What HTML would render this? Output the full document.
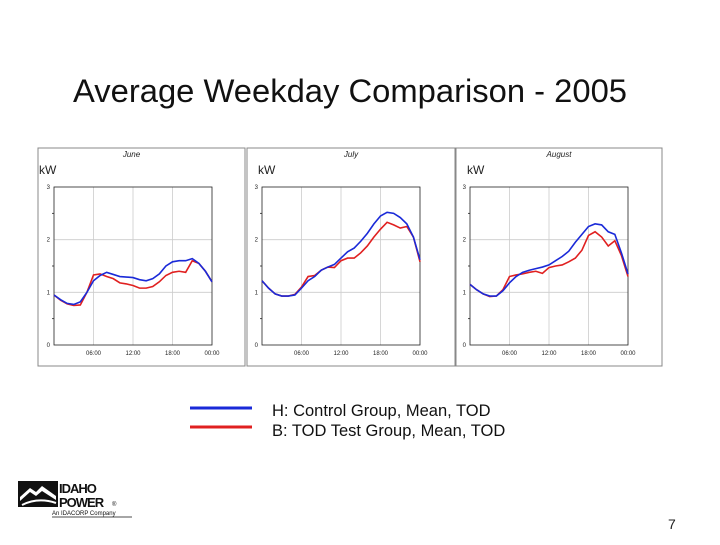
<!DOCTYPE html>
<html><head><meta charset="utf-8"><style>
body{margin:0;background:#fff;width:720px;height:540px;overflow:hidden;font-family:"Liberation Sans",sans-serif;}
</style></head><body>
<svg id="s" width="720" height="540" xmlns="http://www.w3.org/2000/svg" font-family="Liberation Sans, sans-serif">
<text x="73" y="102" font-size="32" fill="#111" textLength="554" lengthAdjust="spacingAndGlyphs">Average Weekday Comparison - 2005</text>
<g id="charts"></g>
<g>
<line x1="190" y1="408" x2="252" y2="408" stroke="#1a2ad8" stroke-width="3"/>
<line x1="190" y1="427" x2="252" y2="427" stroke="#e02020" stroke-width="3"/>
<text x="272" y="416" font-size="16.5" fill="#111">H: Control Group, Mean, TOD</text>
<text x="272" y="436" font-size="16.5" fill="#111">B: TOD Test Group, Mean, TOD</text>
</g>
<g>
<rect x="18" y="481" width="40" height="26" fill="#111"/>
<path d="M20 497 L30 488 L36 492 L42 486 L56 496 L56 500 L42 491 L36 496 L30 492 L20 501Z" fill="#fff"/>
<path d="M22 505 Q38 497 56 503" stroke="#fff" stroke-width="2" fill="none"/>
<text x="59" y="493" font-size="13" font-weight="bold" fill="#111" letter-spacing="-1">IDAHO</text>
<text x="59" y="507" font-size="13" font-weight="bold" fill="#111" letter-spacing="-1">POWER</text>
<text x="112" y="506" font-size="6" fill="#111">®</text>
<text x="52" y="515" font-size="6" fill="#111">An IDACORP Company</text>
<line x1="52" y1="517" x2="132" y2="517" stroke="#111" stroke-width="0.7"/>
</g>
<text x="668" y="529" font-size="14" fill="#222">7</text>
</svg>
<script>
const hours = [0,1,2,3,4,5,6,7,8,9,10,11,12,13,14,15,16,17,18,19,20,21,22,23,24];
const months = ["June","July","August"];
const yTicks = [0,1,2,3];
const xTickLabels = ["06:00","12:00","18:00","00:00"];
const juneControl = [0.95,0.86,0.79,0.77,0.82,1.0,1.22,1.32,1.38,1.34,1.30,1.29,1.28,1.24,1.22,1.26,1.35,1.50,1.58,1.60,1.60,1.64,1.55,1.40,1.20];
const juneTest = [0.95,0.85,0.78,0.75,0.76,1.0,1.33,1.35,1.30,1.26,1.18,1.16,1.13,1.08,1.08,1.11,1.20,1.32,1.38,1.40,1.38,1.60,1.55,1.40,1.20];
const julyControl = [1.22,1.08,0.97,0.93,0.93,0.95,1.08,1.22,1.30,1.42,1.48,1.53,1.65,1.77,1.84,1.97,2.12,2.30,2.45,2.52,2.50,2.42,2.30,2.05,1.62];
const julyTest = [1.22,1.08,0.97,0.93,0.93,0.96,1.10,1.30,1.32,1.42,1.48,1.47,1.60,1.65,1.65,1.75,1.88,2.05,2.20,2.33,2.28,2.22,2.25,2.05,1.58];
const augControl = [1.15,1.05,0.97,0.93,0.93,1.03,1.18,1.30,1.38,1.42,1.45,1.48,1.52,1.60,1.68,1.78,1.95,2.10,2.25,2.30,2.28,2.15,2.10,1.75,1.35];
const augTest = [1.15,1.05,0.97,0.92,0.93,1.05,1.30,1.33,1.35,1.38,1.40,1.36,1.47,1.50,1.52,1.58,1.65,1.80,2.08,2.15,2.05,1.88,1.98,1.70,1.30];
const controlSeries = [juneControl, julyControl, augControl];
const testSeries = [juneTest, julyTest, augTest];

const NS="http://www.w3.org/2000/svg";
const root=document.getElementById('charts');
const panels=[{bx:38,bw:207,px:54},{bx:247,bw:208,px:262},{bx:456,bw:206,px:470}];
function mk(tag,attrs,parent){const e=document.createElementNS(NS,tag);for(const k in attrs)e.setAttribute(k,attrs[k]);parent.appendChild(e);return e;}
months.forEach((m,i)=>{
  const P=panels[i];
  const g=mk('g',{},root);
  
  
  const top=187,bot=345,pw=158;
  const xs=h=>P.px+h/24*pw;
  const ys=v=>bot-v/3*(bot-top);
  mk('rect',{x:P.bx,y:148,width:P.bw,height:218,fill:'#fff',stroke:'#888','stroke-width':1},g);
  const t=mk('text',{x:P.bx+P.bw/2+(i==0?-10:0),y:157,'font-size':8,'font-style':'italic','text-anchor':'middle',fill:'#222'},g);t.textContent=m;
  const kw=mk('text',{x:P.bx+(i==0?0:10)+1,y:174,'font-size':12,fill:'#222'},g);kw.textContent='kW';
  
  
  [6,12,18].forEach(h=>mk('line',{x1:xs(h),y1:top,x2:xs(h),y2:bot,stroke:'#ccc','stroke-width':0.8},g));
  [1,2].forEach(v=>mk('line',{x1:P.px,y1:ys(v),x2:P.px+pw,y2:ys(v),stroke:'#ccc','stroke-width':0.8},g));
  mk('rect',{x:P.px,y:top,width:pw,height:bot-top,fill:'none',stroke:'#222','stroke-width':0.8},g);
  [0.5,1.5,2.5].forEach(v=>mk('line',{x1:P.px-2,y1:ys(v),x2:P.px,y2:ys(v),stroke:'#222','stroke-width':0.8},g));
  yTicks.forEach(v=>{const tt=mk('text',{x:P.px-4,y:ys(v)+2,'font-size':6,'text-anchor':'end',fill:'#222'},g);tt.textContent=v;});
  xTickLabels.forEach((l,k)=>{const tt=mk('text',{x:xs((k+1)*6),y:bot+10,'font-size':6,'text-anchor':'middle',fill:'#222'},g);tt.textContent=l;});
  const line=(arr,col,name)=>{const p=mk('polyline',{points:arr.map((v,k)=>xs(hours[k])+','+ys(v)).join(' '),fill:'none',stroke:col,'stroke-width':1.6},g);
    
    };
  line(testSeries[i],'#e02020','test-group-line');
  line(controlSeries[i],'#1a2ad8','control-group-line');
});
</script>
</body></html>
